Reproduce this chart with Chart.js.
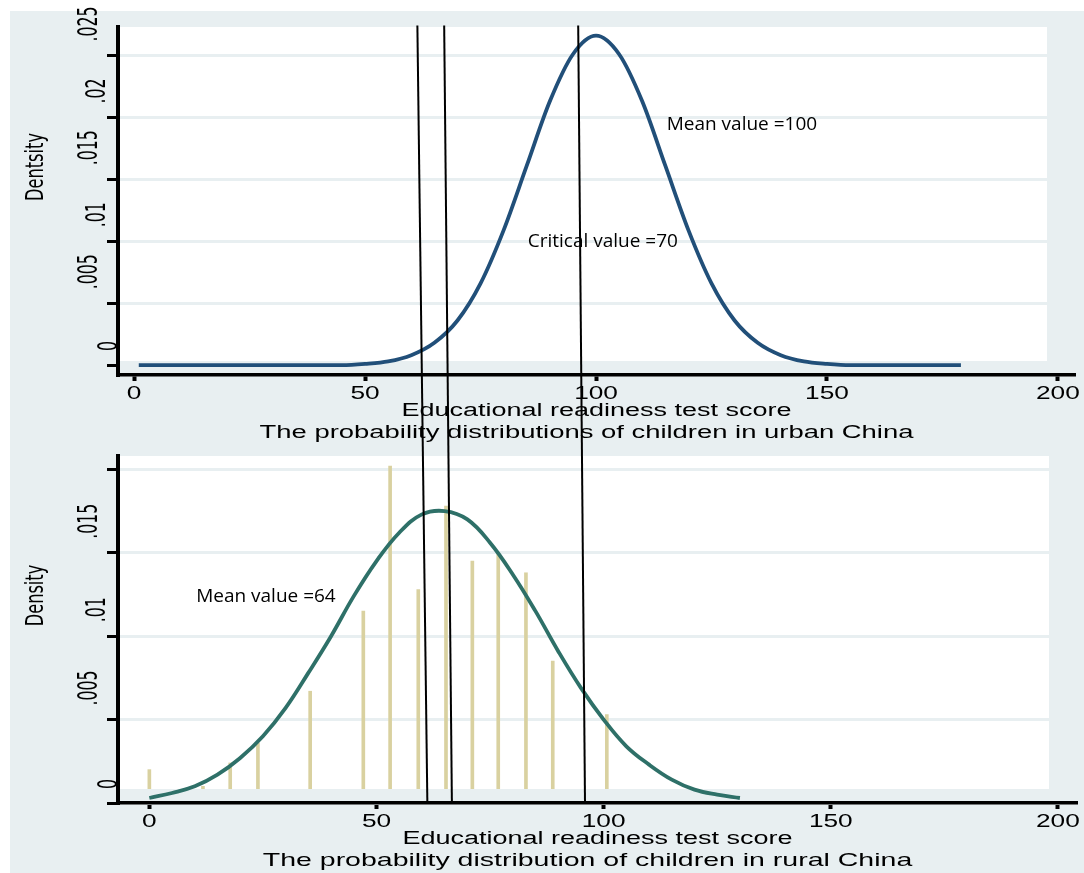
<!DOCTYPE html>
<html>
<head>
<meta charset="utf-8">
<script src="https://cdn.jsdelivr.net/npm/chart.js@4"></script>
<style>
  body { margin: 0; background: #fff; }
  #wrap { position: relative; width: 1084px; height: 873px; }
  #wrap canvas { position: absolute; left: 0; top: 0; }
</style>
</head>
<body>
<div id="wrap">
  <canvas id="urbanChart" width="1084" height="873"></canvas>
  <canvas id="ruralChart" width="1084" height="873"></canvas>
</div>
<script>
// urban China: density curve
const urbanScores = [1, 5, 10, 15, 20, 25, 30, 35, 40, 45, 50, 55, 60, 65, 70, 75, 80, 85, 90, 95,
  100, 105, 110, 115, 120, 125, 130, 135, 140, 145, 150, 155, 160, 165, 170, 175, 179];
const urbanDensity = [0, 0, 0, 0, 0, 0, 0, 0, 0, 0, 0.0001, 0.0003, 0.0008, 0.0018, 0.0036, 0.0066, 0.0109, 0.0161, 0.0213, 0.0251,
  0.0266, 0.0251, 0.0213, 0.0161, 0.0109, 0.0066, 0.0036, 0.0018, 0.0008, 0.0003, 0.0001, 0, 0, 0, 0, 0, 0];

// rural China: density curve + histogram spikes from the bottom panel
const ruralScores = [0, 5, 10, 15, 20, 25, 30, 35, 40, 45, 50, 55, 60, 65, 70, 75, 80, 85, 90, 95,
  100, 105, 110, 115, 120, 125, 130];
const ruralDensity = [0.0003, 0.0006, 0.0010, 0.0017, 0.0027, 0.0040, 0.0057, 0.0078, 0.0100, 0.0124, 0.0145, 0.0162, 0.0173, 0.0175,
  0.0170, 0.0156, 0.0137, 0.0115, 0.0091, 0.0069, 0.0050, 0.0034, 0.0023, 0.0014, 0.0008, 0.0005, 0.0003];
const spikeScores = [0, 11.8, 17.8, 23.9, 35.4, 47.1, 53, 59.2, 65.3, 71.1, 76.8, 82.9, 88.8, 100.7];
const spikeDensity = [0.0020, 0.0010, 0.0024, 0.0036, 0.0067, 0.0115, 0.0202, 0.0128, 0.0178, 0.0145, 0.0150, 0.0138, 0.0085, 0.0053];

// the three slanted reference lines, in rural-panel units (score where each meets the top / the x axis)
const refLineTopScore = [59.0, 64.9, 94.4];
const refLineBottomScore = [61.2, 66.6, 95.9];
const refLineTopDensity = 0.0466;

// ticks
const xTickValues = [0, 50, 100, 150, 200];
const urbanYTicks = [0, 0.005, 0.01, 0.015, 0.02, 0.025];
const urbanYLabels = ['0', '.005', '.01', '.015', '.02', '.025'];
const ruralYTicks = [0, 0.005, 0.01, 0.015, 0.02];
const ruralYLabels = ['0', '.005', '.01', '.015', ''];

const BG = '#e8eff1';
const wideFont = '"Liberation Sans", Arial, sans-serif';
const narrowFont = '"Liberation Sans Narrow", "DejaVu Sans Condensed", sans-serif';
const noteFont = '19px "Open Sans", sans-serif';

function drawText(ctx, text, x, y, sx, sy, rotated, align, baseline) {
  ctx.save();
  ctx.translate(x, y);
  if (rotated) ctx.rotate(-Math.PI / 2);
  ctx.scale(sx, sy);
  ctx.textAlign = align;
  ctx.textBaseline = baseline;
  ctx.fillText(text, 0, 0);
  ctx.restore();
}

// stata-like panel: grey graph region, white plot region, stretched labels
function panel(p) {
  return {
    id: 'panel',
    beforeDraw(chart) {
      const ctx = chart.ctx, a = chart.chartArea;
      ctx.save();
      ctx.fillStyle = BG;
      ctx.fillRect(10, p.bgTop, chart.width - 10, p.bgBottom - p.bgTop);
      ctx.fillStyle = '#fff';
      ctx.fillRect(a.left + 2, a.top, (a.right - 28) - (a.left + 2), (a.bottom - 14) - a.top);
      ctx.restore();
    },
    afterDraw(chart) {
      const ctx = chart.ctx, a = chart.chartArea;
      const xs = chart.scales.x, ys = chart.scales.y;
      const midX = (a.left + a.right) / 2;
      ctx.save();
      ctx.fillStyle = '#000';

      ctx.font = '17.5px ' + wideFont;
      xTickValues.forEach(v => drawText(ctx, String(v), xs.getPixelForValue(v), a.bottom + 19, 1.5, 1, false, 'center', 'middle'));
      ctx.font = '18px ' + wideFont;
      drawText(ctx, 'Educational readiness test score', midX, a.bottom + 36, 1.5, 1, false, 'center', 'middle');
      ctx.font = p.captionSize + 'px ' + wideFont;
      drawText(ctx, p.caption, midX - 10, a.bottom + 58, 1.5, 1, false, 'center', 'middle');

      ctx.font = '17.5px ' + narrowFont;
      p.yTicks.forEach((v, i) => {
        const t = p.yLabels[i];
        if (!t) return;
        const len = ctx.measureText(t).width;
        drawText(ctx, t, a.left + 7 - 0.8 * len, ys.getPixelForValue(v) - 14, 1, 1.5, true, 'left', 'alphabetic');
      });
      ctx.font = '18px ' + narrowFont;
      drawText(ctx, p.yTitle, a.left - 82, (a.top + a.bottom) / 2 - 34, 1, 1.4, true, 'center', 'middle');

      ctx.font = noteFont;
      p.notes.forEach(n => drawText(ctx, n.text, xs.getPixelForValue(n.x), ys.getPixelForValue(n.y), 1, 1, false, 'left', 'middle'));
      ctx.restore();
    }
  };
}

function scales(xMin, xMax, yMin, yMax, yTicks) {
  return {
    x: {
      type: 'linear', min: xMin, max: xMax, offset: false,
      afterFit: s => { s.height = 0; },
      afterBuildTicks: s => { s.ticks = xTickValues.map(v => ({value: v})); },
      ticks: {display: false},
      grid: {drawOnChartArea: false, offset: false, tickLength: 6, tickWidth: 4, tickColor: '#000'},
      border: {color: '#000', width: 3.5}
    },
    y: {
      type: 'linear', min: yMin, max: yMax,
      afterFit: s => { s.width = 0; },
      afterBuildTicks: s => { s.ticks = yTicks.map(v => ({value: v})); },
      ticks: {display: false},
      grid: {color: BG, lineWidth: 3, tickLength: 11, tickWidth: 3, tickColor: '#000'},
      border: {color: '#000', width: 4}
    }
  };
}

const common = {
  responsive: false,
  animation: false,
  devicePixelRatio: 1,
  plugins: {legend: {display: false}, tooltip: {enabled: false}}
};

new Chart('urbanChart', {
  type: 'line',
  data: {
    datasets: [{
      data: urbanScores.map((s, i) => ({x: s, y: urbanDensity[i]})),
      borderColor: '#214f79',
      borderWidth: 3.8,
      pointRadius: 0,
      cubicInterpolationMode: 'monotone',
      fill: false
    }]
  },
  options: Object.assign({}, common, {
    layout: {padding: {left: 118, top: 27, right: 9, bottom: 498}},
    scales: scales(-3.5, 203.7, -0.0008, 0.0273, urbanYTicks)
  }),
  plugins: [panel({
    bgTop: 11, bgBottom: 445,
    caption: 'The probability distributions of children in urban China', captionSize: 18.3,
    yTicks: urbanYTicks, yLabels: urbanYLabels, yTitle: 'Dentsity',
    notes: [{text: 'Mean value =100', x: 115.3, y: 0.0194}, {text: 'Critical value =70', x: 85.2, y: 0.0100}]
  })]
});

const refLines = refLineTopScore.map((s, i) => ({
  data: [{x: s, y: refLineTopDensity}, {x: refLineBottomScore[i], y: 0}],
  borderColor: '#000',
  borderWidth: 2,
  pointRadius: 0,
  clip: false,
  order: 1
}));

new Chart('ruralChart', {
  type: 'line',
  data: {
    datasets: [{
      type: 'bar',
      data: spikeScores.map((s, i) => ({x: s, y: spikeDensity[i]})),
      backgroundColor: '#d9d1a0',
      barThickness: 3,
      clip: {left: 0, top: 0, right: 0, bottom: -14},
      order: 3
    }, {
      data: ruralScores.map((s, i) => ({x: s, y: ruralDensity[i]})),
      borderColor: '#2e7068',
      borderWidth: 3.8,
      pointRadius: 0,
      tension: 0.4,
      fill: false,
      order: 2
    }].concat(refLines)
  },
  options: Object.assign({}, common, {
    layout: {padding: {left: 118, top: 456, right: 7, bottom: 70}},
    scales: scales(-6.9, 204.2, 0, 0.0208, ruralYTicks)
  }),
  plugins: [panel({
    bgTop: 445, bgBottom: 873,
    caption: 'The probability distribution of children in rural China', captionSize: 19,
    yTicks: ruralYTicks, yLabels: ruralYLabels, yTitle: 'Density',
    notes: [{text: 'Mean value =64', x: 10.3, y: 0.0124}]
  })]
});
</script>
</body>
</html>
